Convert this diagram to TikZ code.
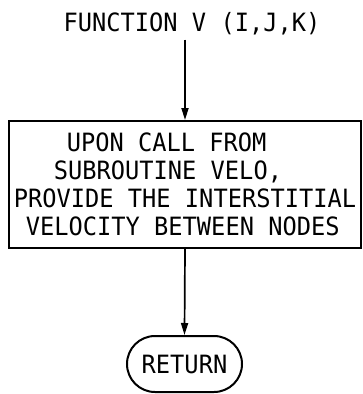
\documentclass[tikz,border=0pt]{standalone}
\usepackage{fontspec}
\setmonofont[FakeStretch=0.94]{DejaVu Sans Mono}
\usetikzlibrary{arrows.meta}
\tikzset{
  lp/.style={font=\ttfamily\fontsize{25.2}{27.8}\selectfont},
  flowbox/.style={draw, line width=2pt, rectangle, inner xsep=5pt, inner ysep=0pt,
    minimum width=350pt, minimum height=127pt, align=left, lp},
  terminal/.style={draw, line width=2pt, rectangle, rounded corners=28pt,
    minimum width=115pt, minimum height=56pt, inner sep=0pt, lp},
  flow/.style={line width=1.7pt, -{Triangle[length=12pt,width=7pt]}}
}
\begin{document}
\begin{tikzpicture}[x=1pt, y=-1pt]
  \useasboundingbox (0,0) rectangle (362,394);
  \node[lp, inner sep=0pt] (title) at (192,24) {FUNCTION V (I,J,K)};
  \node[flowbox] (body) at (185,184.5) {%
    \hspace*{53pt}UPON CALL FROM\\
    \hspace*{40pt}SUBROUTINE VELO,\\
    PROVIDE THE INTERSTITIAL\\
    \hspace*{12pt}VELOCITY BETWEEN NODES};
  \node[terminal] (ret) at (184.5,364) {RETURN};
  \coordinate (start) at ([yshift=-4pt]body.north |- title.south);
  \draw[flow] (start) -- (body.north);
  \draw[flow] (body.south) -- (ret.north);
\end{tikzpicture}
\end{document}
